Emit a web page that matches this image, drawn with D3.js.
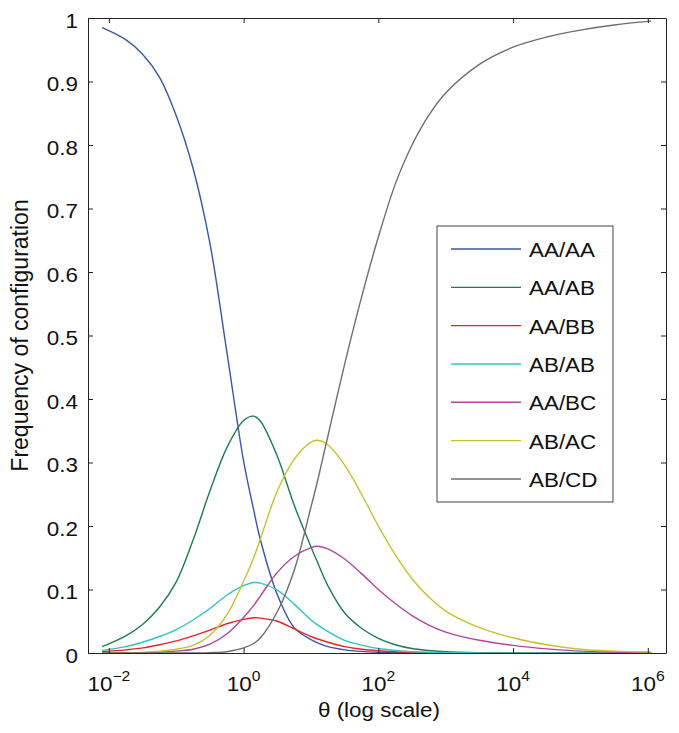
<!DOCTYPE html>
<html>
<head>
<meta charset="utf-8">
<script src="https://cdn.jsdelivr.net/npm/d3@7"></script>
<style>
  html, body { margin: 0; padding: 0; background: #fff; }
  svg { display: block; }
</style>
</head>
<body>
<div id="chart"></div>
<script>
// log10(theta) sample positions
const logTheta = [-2.1, -1.75, -1.5, -1.25, -1, -0.75, -0.5, -0.25, 0, 0.15, 0.25, 0.5, 0.75, 1, 1.1,
                  1.25, 1.5, 1.75, 2, 2.25, 2.5, 2.75, 3, 3.5, 4, 4.5, 5, 5.5, 6.05];

const aaAA = [0.985, 0.966, 0.943, 0.907, 0.846, 0.763, 0.645, 0.475, 0.302, 0.225, 0.178, 0.092, 0.040, 0.021, 0.016,
              0.010, 0.005, 0.0025, 0.0012, 0.0006, 0.0003, 0.0001, 0, 0, 0, 0, 0, 0, 0];
const aaAB = [0.010, 0.027, 0.045, 0.072, 0.112, 0.178, 0.255, 0.323, 0.366, 0.373, 0.365, 0.310, 0.233, 0.167, 0.142,
              0.106, 0.063, 0.039, 0.023, 0.013, 0.007, 0.004, 0.002, 0.0006, 0.0002, 0.0001, 0, 0, 0];
const aaBB = [0.002, 0.005, 0.008, 0.013, 0.019, 0.027, 0.036, 0.046, 0.053, 0.0555, 0.055, 0.050, 0.038, 0.026, 0.022,
              0.017, 0.010, 0.006, 0.0035, 0.002, 0.001, 0.0006, 0.0003, 0.0001, 0, 0, 0, 0, 0];
const abAB = [0.004, 0.010, 0.017, 0.026, 0.037, 0.052, 0.070, 0.091, 0.106, 0.111, 0.110, 0.099, 0.077, 0.052, 0.044,
              0.034, 0.020, 0.0125, 0.007, 0.004, 0.002, 0.0012, 0.0006, 0.0002, 0, 0, 0, 0, 0];
const aaBC = [0, 0.0003, 0.0005, 0.0015, 0.003, 0.006, 0.014, 0.030, 0.056, 0.075, 0.090, 0.127, 0.152, 0.166, 0.168,
              0.164, 0.148, 0.125, 0.100, 0.078, 0.059, 0.044, 0.033, 0.020, 0.012, 0.0065, 0.003, 0.0015, 0.0008];
const abAC = [0, 0.0005, 0.001, 0.003, 0.006, 0.012, 0.028, 0.060, 0.113, 0.150, 0.180, 0.255, 0.305, 0.332, 0.335,
              0.328, 0.296, 0.250, 0.200, 0.155, 0.117, 0.088, 0.066, 0.040, 0.024, 0.013, 0.006, 0.003, 0.0015];
const abCD = [0, 0, 0, 0, 0, 0.0001, 0.0005, 0.002, 0.008, 0.015, 0.024, 0.065, 0.130, 0.230, 0.272,
              0.341, 0.455, 0.560, 0.655, 0.738, 0.800, 0.847, 0.882, 0.927, 0.954, 0.970, 0.981, 0.989, 0.995];

const seriesNames = ["AA/AA", "AA/AB", "AA/BB", "AB/AB", "AA/BC", "AB/AC", "AB/CD"];
const seriesValues = [aaAA, aaAB, aaBB, abAB, aaBC, abAC, abCD];
const seriesColors = ["#3b55a6", "#1d7d4d", "#ee2226", "#30c3c5", "#b3459f", "#c3c32c", "#6e6e6e"];

const yTicks = [0, 0.1, 0.2, 0.3, 0.4, 0.5, 0.6, 0.7, 0.8, 0.9, 1];
const yTickLabels = ["0", "0.1", "0.2", "0.3", "0.4", "0.5", "0.6", "0.7", "0.8", "0.9", "1"];
const xTickExps = [-2, 0, 2, 4, 6];

const width = 679, height = 733;
const margin = { top: 18, right: 13, bottom: 80, left: 88 };
const plotW = width - margin.left - margin.right;
const plotH = height - margin.top - margin.bottom;
const FONT = "'Liberation Sans', Arial, Helvetica, sans-serif";
const STRETCH = 1.12; // glyphs in the figure are a bit wider than Arial

const svg = d3.select("#chart").append("svg")
    .attr("width", width)
    .attr("height", height);

const g = svg.append("g")
    .attr("transform", `translate(${margin.left},${margin.top})`);

const x = d3.scaleLog()
    .domain([Math.pow(10, -2.31), Math.pow(10, 6.27)])
    .range([0, plotW]);

const y = d3.scaleLinear()
    .domain([0, 1])
    .range([plotH, 0]);

g.append("defs").append("clipPath").attr("id", "plotclip")
    .append("rect").attr("width", plotW).attr("height", plotH);

// curves
const line = d3.line()
    .x(d => x(Math.pow(10, d[0])))
    .y(d => y(d[1]))
    .curve(d3.curveCatmullRom.alpha(0.5));

const curves = g.append("g").attr("clip-path", "url(#plotclip)");
seriesValues.forEach((vals, i) => {
    curves.append("path")
        .datum(logTheta.map((e, j) => [e, vals[j]]))
        .attr("fill", "none")
        .attr("stroke", seriesColors[i])
        .attr("stroke-width", 1.4)
        .attr("d", line);
});

// axes: ticks point inward on all four sides (box on)
function styleAxis(sel) {
    sel.selectAll(".domain").attr("stroke", "#222").attr("stroke-width", 1);
    sel.selectAll(".tick line").attr("stroke", "#222").attr("stroke-width", 1);
}

const xTickVals = xTickExps.map(e => Math.pow(10, e));

g.append("g")
    .attr("transform", `translate(0,${plotH})`)
    .call(d3.axisBottom(x).tickValues(xTickVals).tickFormat("").tickSizeInner(-5).tickSizeOuter(0))
    .call(styleAxis);

g.append("g")
    .call(d3.axisTop(x).tickValues(xTickVals).tickFormat("").tickSizeInner(-5).tickSizeOuter(0))
    .call(styleAxis);

const yAxisG = g.append("g")
    .call(d3.axisLeft(y).tickValues(yTicks).tickFormat((d, i) => yTickLabels[i])
        .tickSizeInner(-5).tickSizeOuter(0).tickPadding(10))
    .call(styleAxis);

yAxisG.selectAll("text")
    .attr("font-family", FONT)
    .attr("font-size", 20)
    .attr("fill", "#111")
    .attr("dy", null)
    .attr("y", 9);

g.append("g")
    .attr("transform", `translate(${plotW},0)`)
    .call(d3.axisRight(y).tickValues(yTicks).tickFormat("").tickSizeInner(-5).tickSizeOuter(0))
    .call(styleAxis);

// x tick labels 10^k
const xLabels = g.append("g");
xTickExps.forEach(e => {
    const t = xLabels.append("text")
        .attr("x", x(Math.pow(10, e)))
        .attr("y", plotH + 38)
        .attr("text-anchor", "middle")
        .attr("font-family", FONT)
        .attr("font-size", 20)
        .attr("fill", "#111");
    t.append("tspan").text("10");
    t.append("tspan")
        .attr("font-size", 14)
        .attr("dy", -10)
        .text(e < 0 ? "\u2212" + (-e) : String(e));
});

// axis titles
g.append("text")
    .attr("class", "stretch")
    .attr("x", plotW / 2 + 2)
    .attr("y", plotH + 64)
    .attr("text-anchor", "middle")
    .attr("font-family", FONT)
    .attr("font-size", 20)
    .attr("fill", "#111")
    .text("\u03b8 (log scale)");

svg.append("text")
    .attr("transform", `translate(28,${margin.top + plotH / 2}) rotate(-90)`)
    .attr("text-anchor", "middle")
    .attr("font-family", FONT)
    .attr("font-size", 23)
    .attr("fill", "#111")
    .text("Frequency of configuration");

// legend
const legend = svg.append("g").attr("transform", "translate(437,226)");
legend.append("rect")
    .attr("width", 176)
    .attr("height", 276)
    .attr("fill", "#fff")
    .attr("stroke", "#444")
    .attr("stroke-width", 1);

seriesNames.forEach((name, i) => {
    const ly = 23 + i * 38.33;
    legend.append("line")
        .attr("x1", 14).attr("x2", 84)
        .attr("y1", ly).attr("y2", ly)
        .attr("stroke", seriesColors[i])
        .attr("stroke-width", 1.4);
    legend.append("text")
        .attr("x", 92)
        .attr("y", ly + 8)
        .attr("font-family", FONT)
        .attr("font-size", 20)
        .attr("fill", "#111")
        .text(name);
});

// widen horizontal text to match the figure's glyph proportions
function widen(sel) {
    sel.each(function () {
        const w = this.getComputedTextLength();
        d3.select(this).attr("textLength", w * STRETCH).attr("lengthAdjust", "spacingAndGlyphs");
    });
}
widen(yAxisG.selectAll("text"));
widen(xLabels.selectAll("text"));
widen(legend.selectAll("text"));
widen(g.selectAll("text.stretch"));
</script>
</body>
</html>
